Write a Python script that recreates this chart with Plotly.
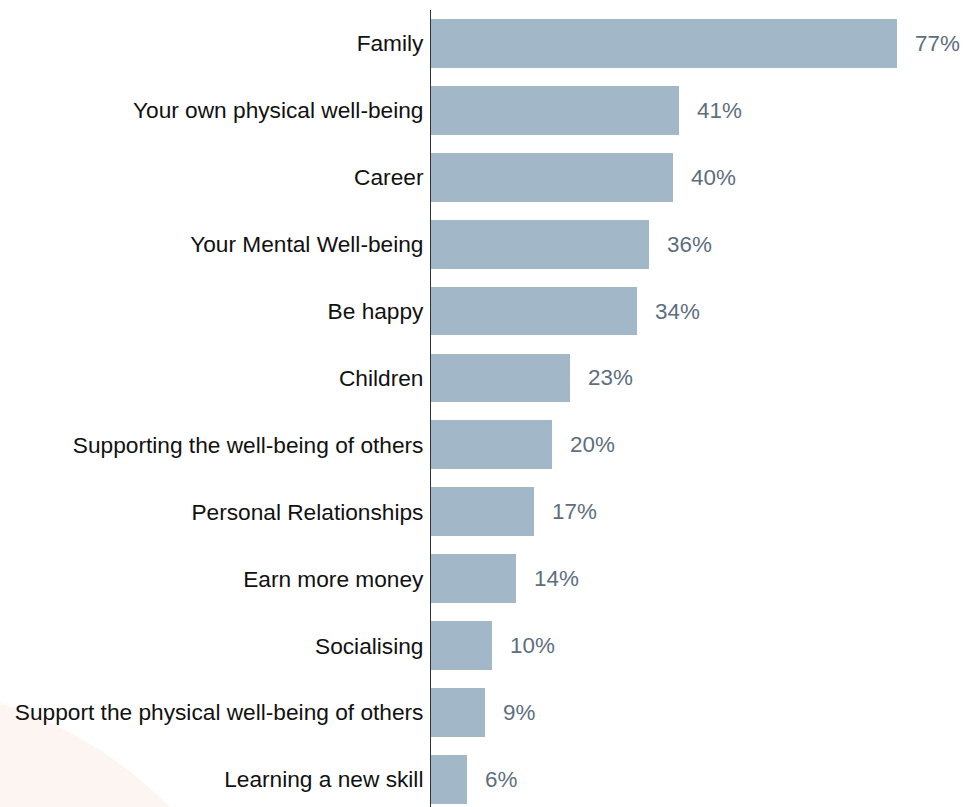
import plotly.graph_objects as go

categories = [
    "Family",
    "Your own physical well-being",
    "Career",
    "Your Mental Well-being",
    "Be happy",
    "Children",
    "Supporting the well-being of others",
    "Personal Relationships",
    "Earn more money",
    "Socialising",
    "Support the physical well-being of others",
    "Learning a new skill",
]
values = [77, 41, 40, 36, 34, 23, 20, 17, 14, 10, 9, 6]
value_labels = [f"{v}%" for v in values]

W, H = 973, 807
LEFT, TOP, BOTTOM = 431, 10, 0
plot_w = W - LEFT
plot_h = H - TOP - BOTTOM

pos = list(range(len(categories)))

fig = go.Figure()
fig.add_trace(go.Bar(
    x=values,
    y=pos,
    orientation="h",
    width=0.73,
    marker=dict(color="#a2b8c8", line=dict(width=0)),
    hoverinfo="skip",
))

# value labels just past each bar end
for p, v, lab in zip(pos, values, value_labels):
    fig.add_annotation(
        x=v, y=p, text=lab, showarrow=False,
        xanchor="left", yanchor="middle", xshift=16,
        font=dict(family="Liberation Sans, Arial, sans-serif", size=22.4, color="#5d6e7e"),
    )

# soft peach arc in the lower-left corner
cx, cy, r = -124, 1096, 412
def px_to_paper_x(px):
    return (px - LEFT) / plot_w
def px_to_paper_y(py):
    return (H - BOTTOM - py) / plot_h
fig.add_shape(
    type="circle", xref="paper", yref="paper", layer="below",
    x0=px_to_paper_x(cx - r), x1=px_to_paper_x(cx + r),
    y0=px_to_paper_y(cy + r), y1=px_to_paper_y(cy - r),
    fillcolor="#fcf5f1", line=dict(width=0),
)

pitch_units = plot_h / 66.9
fig.update_layout(
    width=W, height=H,
    margin=dict(l=LEFT, r=0, t=TOP, b=BOTTOM, pad=0),
    paper_bgcolor="white",
    plot_bgcolor="rgba(0,0,0,0)",
    showlegend=False,
    bargap=0,
    xaxis=dict(range=[0, plot_w / 6.05], visible=False, fixedrange=True),
    yaxis=dict(
        range=[-0.5 + pitch_units, -0.5],
        tickmode="array", tickvals=pos, ticktext=categories,
        showgrid=False, zeroline=False,
        showline=True, linecolor="#333333", linewidth=1,
        ticks="", ticklabelstandoff=2,
        tickfont=dict(family="Liberation Sans, Arial, sans-serif", size=22.7, color="#111111"),
    ),
)

fig.write_html("out.html")
